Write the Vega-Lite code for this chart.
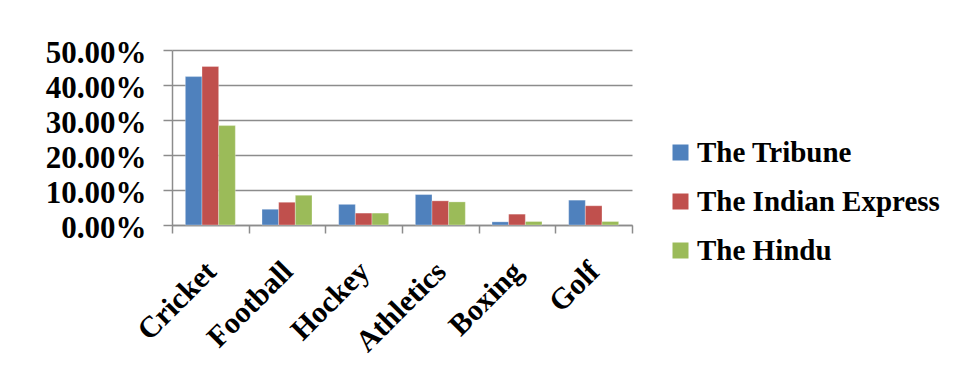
{
  "$schema": "https://vega.github.io/schema/vega-lite/v6.json",
  "width": 460,
  "height": 175,
  "autosize": "none",
  "padding": {"left": 172, "top": 50, "right": 338, "bottom": 162},
  "background": "white",
  "config": {
    "view": {"stroke": null},
    "font": "Liberation Serif"
  },
  "data": {
    "values": [
      {"sport": "Cricket", "paper": "The Tribune", "share": 0.424},
      {"sport": "Cricket", "paper": "The Indian Express", "share": 0.453},
      {"sport": "Cricket", "paper": "The Hindu", "share": 0.284},
      {"sport": "Football", "paper": "The Tribune", "share": 0.045},
      {"sport": "Football", "paper": "The Indian Express", "share": 0.065},
      {"sport": "Football", "paper": "The Hindu", "share": 0.085},
      {"sport": "Hockey", "paper": "The Tribune", "share": 0.059},
      {"sport": "Hockey", "paper": "The Indian Express", "share": 0.034},
      {"sport": "Hockey", "paper": "The Hindu", "share": 0.034},
      {"sport": "Athletics", "paper": "The Tribune", "share": 0.087},
      {"sport": "Athletics", "paper": "The Indian Express", "share": 0.069},
      {"sport": "Athletics", "paper": "The Hindu", "share": 0.066},
      {"sport": "Boxing", "paper": "The Tribune", "share": 0.009},
      {"sport": "Boxing", "paper": "The Indian Express", "share": 0.031},
      {"sport": "Boxing", "paper": "The Hindu", "share": 0.010},
      {"sport": "Golf", "paper": "The Tribune", "share": 0.071},
      {"sport": "Golf", "paper": "The Indian Express", "share": 0.055},
      {"sport": "Golf", "paper": "The Hindu", "share": 0.010}
    ]
  },
  "mark": {"type": "bar", "stroke": "white", "strokeWidth": 0.5, "strokeOpacity": 0.6},
  "encoding": {
    "x": {
      "field": "sport",
      "type": "nominal",
      "sort": ["Cricket", "Football", "Hockey", "Athletics", "Boxing", "Golf"],
      "scale": {"paddingInner": 0, "paddingOuter": 0},
      "axis": {
        "title": null,
        "labelAngle": -45,
        "labelFont": "Liberation Serif",
        "labelFontWeight": "bold",
        "labelFontSize": 30,
        "labelColor": "black",
        "labelPadding": 23,
        "labelOffset": -10,
        "tickBand": "extent",
        "ticks": true,
        "tickSize": 8,
        "tickColor": "#8c8c8c",
        "tickWidth": 1.5,
        "domain": true,
        "domainColor": "#8c8c8c",
        "domainWidth": 1.5,
        "grid": false
      }
    },
    "xOffset": {
      "field": "paper",
      "type": "nominal",
      "sort": ["The Tribune", "The Indian Express", "The Hindu"],
      "scale": {"paddingInner": 0, "paddingOuter": 0.8}
    },
    "y": {
      "field": "share",
      "type": "quantitative",
      "scale": {"domain": [0, 0.5], "nice": false},
      "axis": {
        "title": null,
        "values": [0, 0.1, 0.2, 0.3, 0.4, 0.5],
        "format": ".2%",
        "labelFont": "Liberation Serif",
        "labelFontWeight": "bold",
        "labelFontSize": 31,
        "labelColor": "black",
        "labelPadding": 17,
        "labelOffset": 3,
        "tickSize": 9,
        "tickColor": "#8c8c8c",
        "tickWidth": 1.5,
        "domain": true,
        "domainColor": "#8c8c8c",
        "domainWidth": 1.5,
        "grid": true,
        "gridColor": "#8c8c8c",
        "gridWidth": 1.5
      }
    },
    "color": {
      "field": "paper",
      "type": "nominal",
      "sort": ["The Tribune", "The Indian Express", "The Hindu"],
      "scale": {
        "domain": ["The Tribune", "The Indian Express", "The Hindu"],
        "range": ["#4F81BD", "#C0504D", "#9BBB59"]
      },
      "legend": {
        "title": null,
        "orient": "none",
        "legendX": 494,
        "legendY": 88,
        "symbolType": "square",
        "symbolSize": 256,
        "symbolStrokeWidth": 0,
        "labelFont": "Liberation Serif",
        "labelFontWeight": "bold",
        "labelFontSize": 29,
        "labelColor": "black",
        "labelOffset": 2,
        "rowPadding": 19,
        "labelLimit": 400
      }
    }
  }
}
